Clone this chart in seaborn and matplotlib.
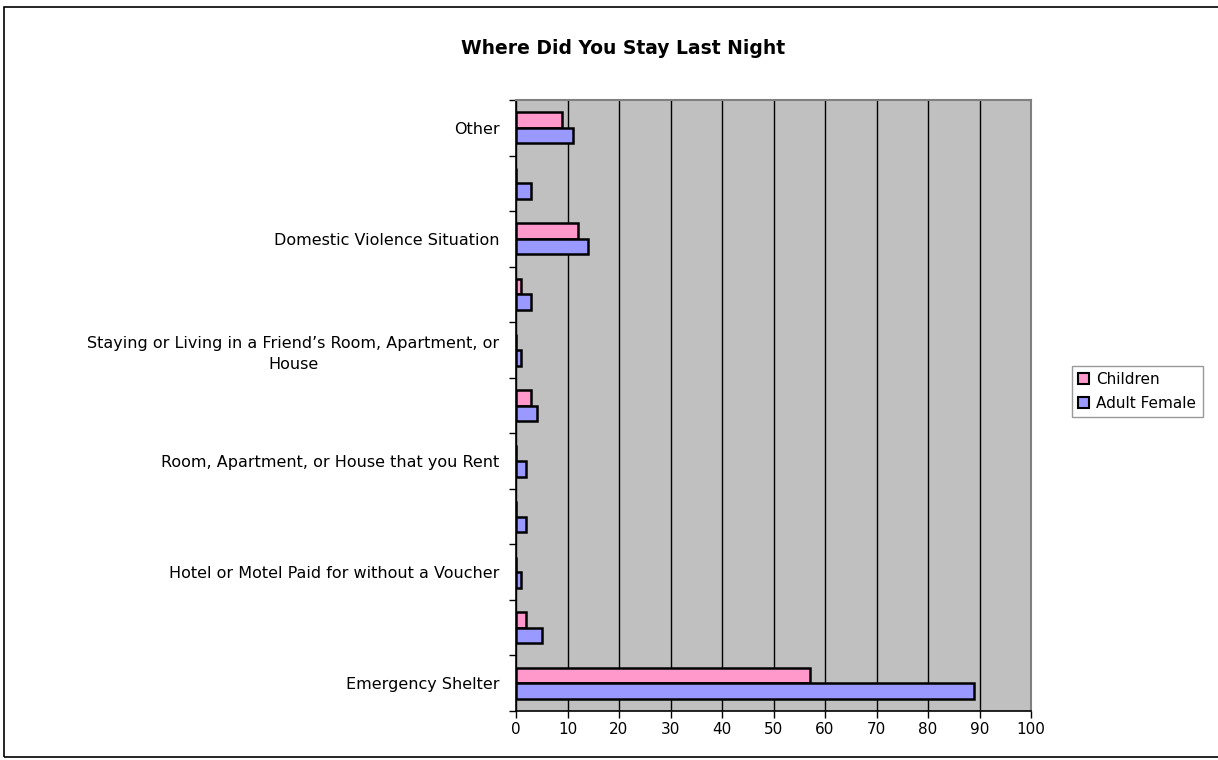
import matplotlib
matplotlib.use("Agg")
import matplotlib.pyplot as plt
import seaborn as sns
import pandas as pd
import numpy as np
from matplotlib.patches import Rectangle, Patch

categories = ["Other", "cat10", "Domestic Violence Situation", "cat8",
              "Staying or Living in a Friend\u2019s Room, Apartment, or\nHouse",
              "cat6", "Room, Apartment, or House that you Rent", "cat4",
              "Hotel or Motel Paid for without a Voucher", "cat2", "Emergency Shelter"]
tick_labels = ["Other", "", "Domestic Violence Situation", "",
               "Staying or Living in a Friend\u2019s Room, Apartment, or\nHouse",
               "", "Room, Apartment, or House that you Rent", "",
               "Hotel or Motel Paid for without a Voucher", "", "Emergency Shelter"]
children = [9, 0, 12, 1, 0, 3, 0, 0, 0, 2, 57]
adult_female = [11, 3, 14, 3, 1, 4, 2, 2, 1, 5, 89]
series = ["Children", "Adult Female"]
x_ticks = [0, 10, 20, 30, 40, 50, 60, 70, 80, 90, 100]

df = pd.DataFrame({
    "category": categories * 2,
    "value": children + adult_female,
    "series": ["Children"] * len(categories) + ["Adult Female"] * len(categories),
})

sns.set_theme(style="white")
plt.rcParams['font.family'] = ['DejaVu Sans']
plt.rcParams['text.color'] = 'black'
plt.rcParams['xtick.color'] = 'black'
plt.rcParams['ytick.color'] = 'black'
plt.rcParams['xtick.labelcolor'] = 'black'
plt.rcParams['ytick.labelcolor'] = 'black'
FS = 11.5

fig = plt.figure(figsize=(12.18, 7.6), dpi=100)
ax = fig.add_axes([516/1218, 1 - 711/760, (1031-516)/1218, (711-100)/760])

palette = {"Children": "#FF99CC", "Adult Female": "#9999FF"}
sns.barplot(data=df, y="category", x="value", hue="series", order=categories,
            hue_order=series, palette=palette, orient="h", width=0.56,
            edgecolor="black", linewidth=1.8, saturation=1, ax=ax, legend=False)

ax.set_facecolor("#C0C0C0")
ax.set_xlim(0, 100)
ax.set_ylim(len(categories) - 0.5, -0.5)
ax.set_xticks(x_ticks)
ax.set_xticklabels([str(t) for t in x_ticks], fontsize=11)
ax.set_yticks(range(len(categories)))
ax.set_yticklabels(tick_labels, fontsize=FS, multialignment="center", linespacing=1.45)
ax.tick_params(axis="y", which="major", length=0, pad=12)
ax.set_yticks(np.arange(-0.5, len(categories), 1), minor=True)
ax.tick_params(axis="y", which="minor", length=5, width=1, color="black", direction="out", left=True)
ax.tick_params(axis="x", which="major", length=5, width=1, color="black", direction="out", bottom=True, pad=3)
ax.set_xlabel("")
ax.set_ylabel("")
ax.xaxis.grid(True, color="black", linewidth=1)
ax.yaxis.grid(False)
ax.set_axisbelow(True)
for s in ["top", "right"]:
    ax.spines[s].set_color("#808080")
    ax.spines[s].set_linewidth(1.5)
for s in ["left", "bottom"]:
    ax.spines[s].set_color("black")
    ax.spines[s].set_linewidth(1.2)

fig.text(623/1218, 1 - 48/760, "Where Did You Stay Last Night",
         ha="center", va="center", fontsize=13.5, fontweight="bold", color="black")

handles = [Patch(facecolor=palette[s], edgecolor="black", linewidth=1.5) for s in series]
leg = fig.legend(handles, series, loc="upper left", bbox_to_anchor=(1072/1218, 1 - 366/760),
                 frameon=True, fancybox=False, edgecolor="#808080", fontsize=11,
                 handlelength=0.7, handleheight=0.7, handletextpad=0.5,
                 borderpad=0.4, labelspacing=0.55, borderaxespad=0)
leg.get_frame().set_linewidth(1)

fig.patches.append(Rectangle((4/1218, 1 - 757/760), (1218-4)/1218 + 0.01, (757-7)/760,
                             transform=fig.transFigure, fill=False, edgecolor="black",
                             linewidth=1.2))

fig.savefig("out.png", dpi=100)
